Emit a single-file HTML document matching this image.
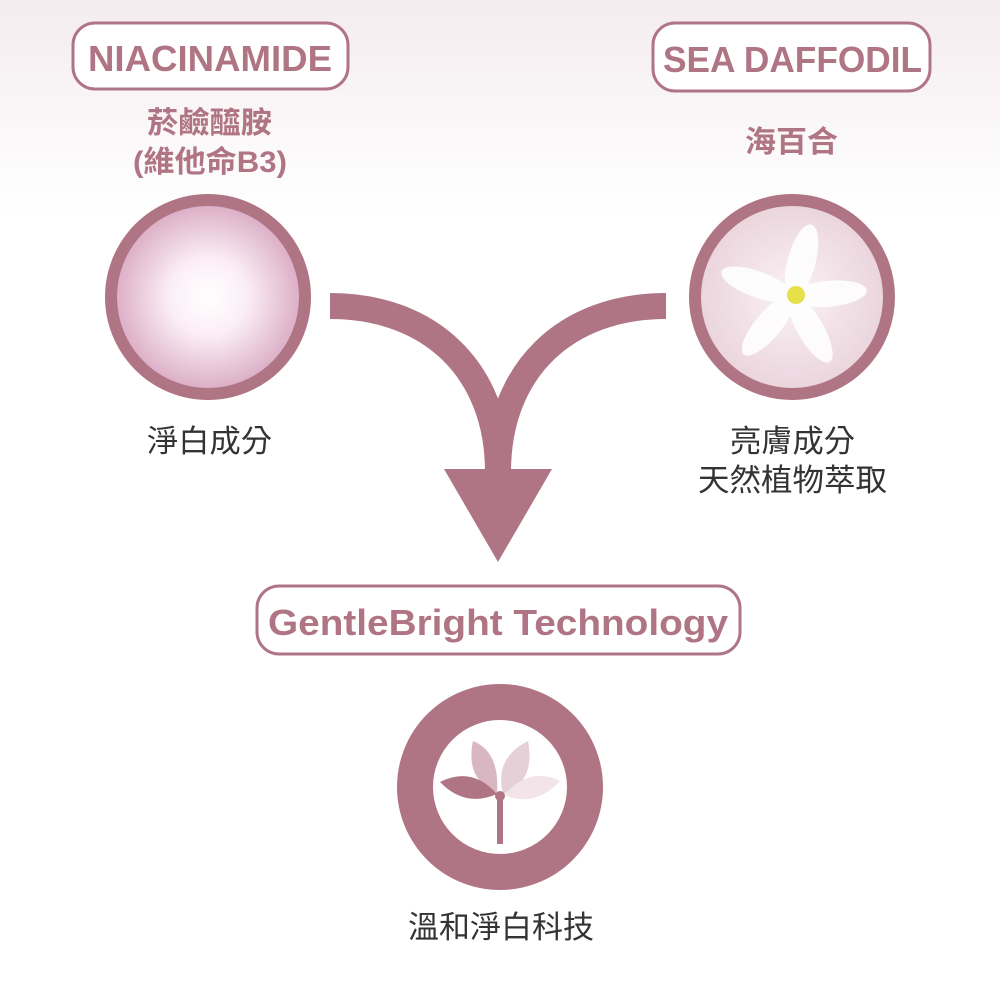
<!DOCTYPE html>
<html><head><meta charset="utf-8"><style>
html,body{margin:0;padding:0;width:1000px;height:1000px;overflow:hidden;background:#fff}
svg{display:block}
text{font-family:"Liberation Sans","Noto Sans CJK TC",sans-serif}
</style></head><body>
<svg width="1000" height="1000" viewBox="0 0 1000 1000">
<defs>
<linearGradient id="bg" x1="0" y1="0" x2="0" y2="1">
<stop offset="0" stop-color="#f4ecef"/><stop offset="1" stop-color="#ffffff"/>
</linearGradient>
<radialGradient id="glow" cx="0.5" cy="0.5" r="0.5">
<stop offset="0" stop-color="#ffffff"/><stop offset="0.4" stop-color="#fbeef5"/><stop offset="1" stop-color="#d9a9c3"/>
</radialGradient>
<radialGradient id="flower" cx="0.5" cy="0.5" r="0.5">
<stop offset="0" stop-color="#fbf3f6"/><stop offset="1" stop-color="#ead3dc"/>
</radialGradient>
</defs>
<rect x="0" y="0" width="1000" height="215" fill="url(#bg)"/>
<g fill="#fff" stroke="#b07585" stroke-width="3">
<rect x="73" y="23" width="275" height="66" rx="22"/>
<rect x="653" y="23" width="277" height="68" rx="22"/>
<rect x="257" y="586" width="483" height="68" rx="22"/>
</g>
<g fill="#b07585" font-weight="bold">
<text x="88" y="71" font-size="36" textLength="244" lengthAdjust="spacingAndGlyphs">NIACINAMIDE</text>
<text x="663" y="72" font-size="36" textLength="259" lengthAdjust="spacingAndGlyphs">SEA DAFFODIL</text>
<text x="268" y="635" font-size="36" textLength="460" lengthAdjust="spacingAndGlyphs">GentleBright Technology</text>
<text x="147" y="133" font-size="30" textLength="125" lengthAdjust="spacingAndGlyphs">菸鹼醯胺</text>
<text x="133" y="172" font-size="30" textLength="154" lengthAdjust="spacingAndGlyphs">(維他命B3)</text>
<text x="745" y="152" font-size="30" textLength="93" lengthAdjust="spacingAndGlyphs">海百合</text>
</g>
<circle cx="208" cy="297" r="97" fill="url(#glow)" stroke="#b07585" stroke-width="12"/>
<circle cx="792" cy="297" r="97" fill="url(#flower)" stroke="#b07585" stroke-width="12"/>
<g fill="#fff" opacity="0.9">
<ellipse cx="792" cy="260" rx="14" ry="38" transform="rotate(15 792 297)"/>
<ellipse cx="792" cy="260" rx="13" ry="38" transform="rotate(85 792 297)"/>
<ellipse cx="792" cy="260" rx="13" ry="38" transform="rotate(150 792 297)"/>
<ellipse cx="792" cy="260" rx="13" ry="38" transform="rotate(220 792 297)"/>
<ellipse cx="792" cy="260" rx="13" ry="38" transform="rotate(290 792 297)"/>
</g>
<circle cx="796" cy="295" r="9" fill="#e6e04a"/>
<g fill="none" stroke="#b07585" stroke-width="26">
<path d="M330,306 C430,306 498,370 498,472"/>
<path d="M666,306 C566,306 498,370 498,472"/>
</g>
<polygon points="444,469 552,469 498,562" fill="#b07585"/>
<circle cx="500" cy="787" r="85" fill="#fff" stroke="#b07585" stroke-width="36"/>
<g>
<path d="M473,741 Q500,752 497,793 Q465,780 473,741Z" fill="#d8b6c2"/>
<path d="M528,741 Q536,782 503,794 Q494,758 528,741Z" fill="#e6d0d8"/>
<path d="M440,782 Q472,766 497,794 Q465,808 440,782Z" fill="#b07585"/>
<path d="M560,781 Q530,766 504,795 Q535,808 560,781Z" fill="#f2e4e9"/>
<rect x="497" y="800" width="6" height="44" fill="#b07585"/>
<circle cx="500" cy="796" r="5" fill="#b07585"/>
</g>
<g fill="#333" font-size="31">
<text x="147" y="452" textLength="125" lengthAdjust="spacingAndGlyphs">淨白成分</text>
<text x="730" y="452" textLength="125" lengthAdjust="spacingAndGlyphs">亮膚成分</text>
<text x="698" y="491" textLength="189" lengthAdjust="spacingAndGlyphs">天然植物萃取</text>
<text x="408" y="938" textLength="186" lengthAdjust="spacingAndGlyphs">溫和淨白科技</text>
</g>
</svg>
</body></html>
